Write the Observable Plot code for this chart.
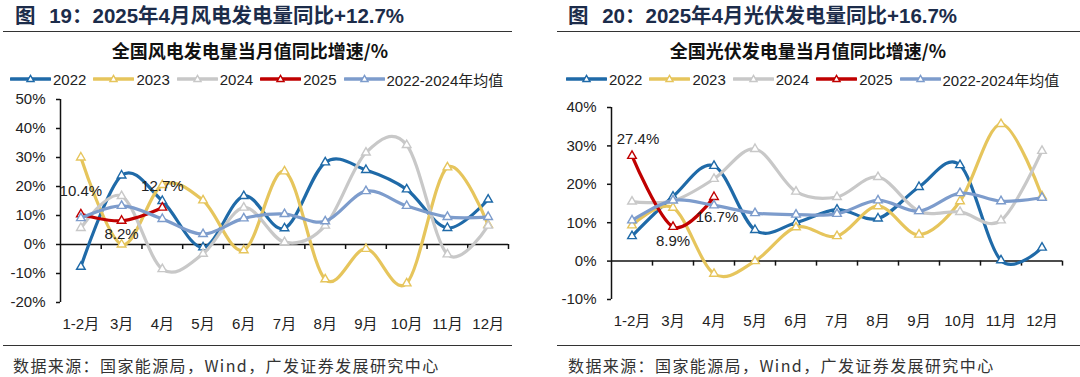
<!DOCTYPE html>
<html><head><meta charset="utf-8">
<script src="https://cdn.jsdelivr.net/npm/d3@7"></script>
<script src="https://cdn.jsdelivr.net/npm/@observablehq/plot@0.6"></script>
<style>
body{margin:0;background:#fff;}
#root{position:relative;width:1080px;height:377px;overflow:hidden;font-family:"Liberation Sans","Noto Sans CJK SC",sans-serif;background:#fff;}
.title{position:absolute;top:4px;font-size:20.5px;line-height:24px;font-weight:bold;color:#1c2c4a;white-space:pre;word-spacing:8px;}
.hr{position:absolute;height:0;border-top:1.5px solid #333;}
.sub{position:absolute;top:39px;transform:translateX(-50%);font-size:18px;line-height:22px;font-weight:bold;color:#111;white-space:nowrap;font-family:"Noto Sans CJK SC",sans-serif;}
.legend{position:absolute;top:68px;height:22px;display:flex;align-items:center;font-size:15px;color:#222;white-space:nowrap;}
.item{display:flex;align-items:center;margin-right:7px;}
.item svg{margin-right:2px;}
.src{position:absolute;top:355px;font-size:16px;line-height:20px;letter-spacing:1.4px;color:#333;white-space:nowrap;font-family:"Noto Sans CJK SC",sans-serif;}
.plot{position:absolute;top:90px;}
</style>
</head><body><div id="root"></div>
<script>
// ---- data ----
const months = ["1-2月","3月","4月","5月","6月","7月","8月","9月","10月","11月","12月"];
const seriesNames = ["2022","2023","2024","2025","2022-2024年均值"];

// wind power YoY (%)
const wind2022 = [-7.7, 23.8, 15.0, -1.0, 16.7, 5.6, 28.3, 25.7, 19.0, 5.7, 15.5];
const wind2023 = [30.0, 0.0, 20.5, 15.2, -2.0, 25.2, -12.0, -1.5, -13.4, 26.6, 6.8];
const wind2024 = [5.7, 16.7, -8.5, -3.2, 12.7, 0.8, 6.5, 31.7, 34.3, -3.4, 6.5];
const wind2025 = [10.4, 8.2, 12.7];
const windAvg  = [9.1, 13.3, 8.8, 3.6, 9.0, 10.5, 8.0, 18.4, 13.3, 9.5, 9.5];

// solar power YoY (%)
const solar2022 = [6.5, 16.8, 24.8, 8.1, 10.0, 13.4, 11.1, 19.3, 25.0, 0.2, 3.5];
const solar2023 = [9.3, 13.9, -3.3, 0.0, 8.8, 6.5, 14.3, 6.9, 15.6, 35.7, 16.9];
const solar2024 = [15.5, 15.7, 21.4, 29.2, 18.1, 16.7, 21.9, 13.0, 12.8, 10.6, 28.7];
const solar2025 = [27.4, 8.9, 16.7];
const solarAvg  = [10.6, 15.8, 14.5, 12.5, 12.1, 12.3, 15.8, 13.0, 17.7, 15.6, 16.5];

const windTicks = [-20, -10, 0, 10, 20, 30, 40, 50];
const solarTicks = [-10, 0, 10, 20, 30, 40];

const titles = ["图 19：2025年4月风电发电量同比+12.7%", "图 20：2025年4月光伏发电量同比+16.7%"];
const subtitles = ["全国风电发电量当月值同比增速/%", "全国光伏发电量当月值同比增速/%"];
const source = "数据来源：国家能源局，Wind，广发证券发展研究中心";

// ---- styles ----
const colors = ["#1f6aa8", "#e6c55c", "#c8c8c8", "#c00000", "#7d9ccc"];
const fontFam = '"Liberation Sans","Noto Sans CJK SC",sans-serif';

const root = document.getElementById("root");
function el(cls, text, css) {
  const d = document.createElement("div");
  d.className = cls;
  if (text != null) d.textContent = text;
  Object.assign(d.style, css || {});
  root.appendChild(d);
  return d;
}

function legend(left) {
  const lg = el("legend", null, {left: left + "px"});
  seriesNames.forEach((n, k) => {
    const it = document.createElement("div");
    it.className = "item";
    const s = d3.create("svg").attr("width", 41).attr("height", 12);
    s.append("line").attr("x1", 1).attr("x2", 40).attr("y1", 6).attr("y2", 6)
      .attr("stroke", colors[k]).attr("stroke-width", 3.5).attr("stroke-linecap", "round");
    s.append("path").attr("d", d3.symbol(d3.symbolTriangle, 22)()).attr("transform", "translate(20.5,6.5)")
      .attr("fill", "#fff").attr("stroke", colors[k]).attr("stroke-width", 1.4);
    it.appendChild(s.node());
    const t = document.createElement("span");
    t.textContent = n;
    it.appendChild(t);
    lg.appendChild(it);
  });
}

function panel({left, data, yDomain, yTicks, mL, mR, mT, mB, labelOffsets}) {
  const xDomain = [-0.5, months.length - 0.5];
  const idx = months.map((_, i) => i);
  const bounds = idx.map(i => i + 0.5);
  const marks = [
    Plot.ruleY([0], {stroke: "#111", strokeWidth: 1.5}),
    Plot.ruleX([xDomain[0]], {y1: yDomain[0], y2: yDomain[1], stroke: "#111", strokeWidth: 1.5}),
    Plot.ruleX(bounds, {y1: 0, y2: 0, insetBottom: -5, stroke: "#111", strokeWidth: 1.5}),
    Plot.axisY({ticks: yTicks, tickSize: 4, tickPadding: 11, tickFormat: d => d + "%", stroke: "#111", strokeWidth: 1.5}),
    Plot.axisX({ticks: idx, tickSize: 0, tickPadding: 16, tickFormat: i => months[i]})
  ];
  data.forEach((vals, k) => {
    const rows = vals.map((v, i) => ({i, v}));
    marks.push(Plot.line(rows, {x: "i", y: "v", curve: "cardinal", tension: 0, stroke: colors[k], strokeWidth: 3.2}));
    marks.push(Plot.dot(rows, {x: "i", y: "v", symbol: "triangle", r: 3.2, fill: "#fff", stroke: colors[k], strokeWidth: 1.4}));
  });
  const cur = data[3].map((v, i) => ({i, v, t: d3.format(".1f")(v) + "%", dx: labelOffsets[i][0], dy: labelOffsets[i][1]}));
  cur.forEach(r => marks.push(Plot.text([r], {x: "i", y: "v", text: "t", dx: r.dx, dy: r.dy, fontSize: 15, fill: "#222"})));
  const p = Plot.plot({
    width: 540, height: 245,
    marginLeft: mL, marginRight: mR, marginTop: mT, marginBottom: mB,
    x: {domain: xDomain, label: null},
    y: {domain: yDomain, label: null},
    style: {fontFamily: fontFam, fontSize: "15px", color: "#222", background: "transparent", overflow: "visible"},
    marks
  });
  p.classList.add("plot");
  p.style.left = left + "px";
  root.appendChild(p);
}

// left panel
el("title", titles[0], {left: "15px"});
el("hr", null, {left: "3px", width: "509px", top: "31px"});
el("sub", subtitles[0], {left: "250px"});
legend(10);
panel({left: 0, data: [wind2022, wind2023, wind2024, wind2025, windAvg], yDomain: [-20, 50], yTicks: windTicks,
  mL: 60, mR: 32, mT: 9, mB: 33, labelOffsets: [[0, -23], [0, 13], [0, -21]]});
el("hr", null, {left: "3px", width: "509px", top: "345px"});
el("src", source, {left: "13px"});

// right panel
el("title", titles[1], {left: "568px"});
el("hr", null, {left: "557px", width: "523px", top: "31px"});
el("sub", subtitles[1], {left: "808px"});
legend(566);
panel({left: 540, data: [solar2022, solar2023, solar2024, solar2025, solarAvg], yDomain: [-10, 40], yTicks: solarTicks,
  mL: 71, mR: 18, mT: 17, mB: 36, labelOffsets: [[6, -17], [0, 14], [3, 20]]});
el("hr", null, {left: "557px", width: "523px", top: "345px"});
el("src", source, {left: "568px"});
</script>
</body></html>
